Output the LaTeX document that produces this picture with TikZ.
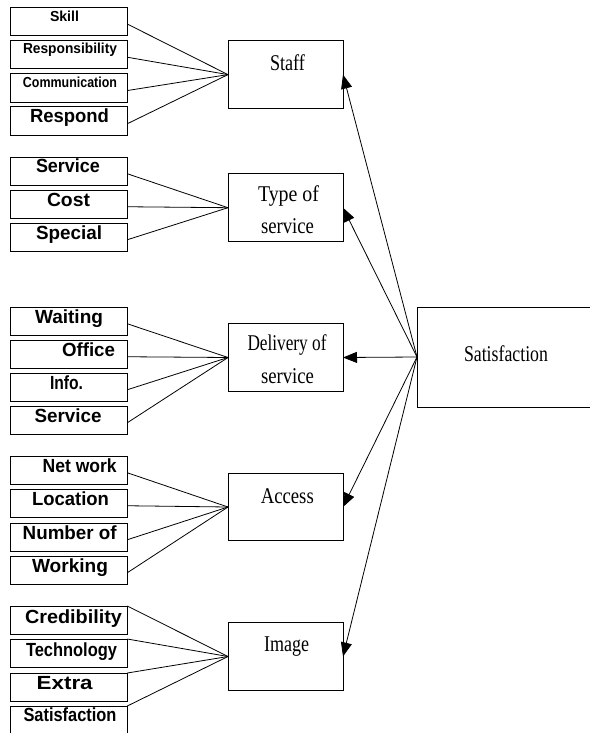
\documentclass[tikz,border=0pt]{standalone}
\usepackage{fontspec}
\usepackage{graphicx}
\setmainfont{Liberation Serif}
\newfontfamily\lblfont{Liberation Sans}
\usetikzlibrary{arrows.meta}
\newsavebox\fitbox
\newlength\fitlen
\newcommand\fitw[2]{\sbox\fitbox{#2}\setlength\fitlen{\wd\fitbox}\pgfmathsetmacro\fitr{#1/\fitlen}\scalebox{\fitr}[1]{\usebox\fitbox}}
\tikzset{
  lbox/.style={draw, line width=1pt, minimum width=116.6pt, minimum height=28.5pt, inner sep=0pt, outer sep=0pt},
  mbox/.style={draw, line width=1pt, minimum width=115pt, minimum height=67.5pt, inner sep=0pt, outer sep=0pt},
  ltxt/.style={anchor=base, inner sep=0pt, font=\lblfont\bfseries\fontsize{19}{22}\selectfont},
  stxt/.style={anchor=base, inner sep=0pt, font=\lblfont\bfseries\fontsize{14.5}{17}\selectfont},
  mtxt/.style={anchor=base, inner sep=0pt, font=\fontsize{22.5}{26}\selectfont},
  link/.style={line width=0.8pt},
  arr/.style={line width=0.8pt, -{Triangle[length=14pt,width=11pt]}}
}
\begin{document}
\begin{tikzpicture}[x=1pt,y=-1pt]
\useasboundingbox (0,0) rectangle (589,733);
% left boxes
\node[lbox] (s1) at (69,21.55) {};
\node[lbox] (s2) at (69,54.75) {};
\node[lbox] (s3) at (69,88.05) {};
\node[lbox] (s4) at (69,121.25) {};
\node[lbox] (t1) at (69,171.25) {};
\node[lbox] (t2) at (69,204.25) {};
\node[lbox] (t3) at (69,237.25) {};
\node[lbox] (d1) at (69,321.25) {};
\node[lbox] (d2) at (69,354.25) {};
\node[lbox] (d3) at (69,387.25) {};
\node[lbox] (d4) at (69,420.25) {};
\node[lbox] (a1) at (69,470.25) {};
\node[lbox] (a2) at (69,503.25) {};
\node[lbox] (a3) at (69,537.25) {};
\node[lbox] (a4) at (69,570.25) {};
\node[lbox] (i1) at (69,620.25) {};
\node[lbox] (i2) at (69,653.25) {};
\node[lbox] (i3) at (69,687.25) {};
\node[lbox] (i4) at (69,720.25) {};
% left texts
\node[stxt] (s1t) at (64.5,21.7) {\fitw{29}{Skill}};
\node[stxt] (s2t) at (70,54) {\fitw{94}{Responsibility}};
\node[stxt] (s3t) at (70,87.7) {\fitw{94}{Communication}};
\node[ltxt] (s4t) at (69.5,122.7) {\fitw{79}{Respond}};
\node[ltxt] (t1t) at (68,172.7) {\fitw{64}{Service}};
\node[ltxt] (t2t) at (68.5,206.5) {\fitw{43}{Cost}};
\node[ltxt] (t3t) at (69,239.3) {\fitw{66}{Special}};
\node[ltxt] (d1t) at (69,323) {\fitw{68}{Waiting}};
\node[ltxt] (d2t) at (88.5,356.5) {\fitw{53}{Office}};
\node[ltxt] (d3t) at (66.5,389) {\fitw{33}{Info.}};
\node[ltxt] (d4t) at (68,422.5) {\fitw{67}{Service}};
\node[ltxt] (a1t) at (79.7,472.5) {\fitw{74}{Net work}};
\node[ltxt] (a2t) at (70.5,505.7) {\fitw{77}{Location}};
\node[ltxt] (a3t) at (69.7,539) {\fitw{94}{Number of}};
\node[ltxt] (a4t) at (70,572.5) {\fitw{76}{Working}};
\node[ltxt] (i1t) at (73.5,623.3) {\fitw{97}{Credibility}};
\node[ltxt] (i2t) at (71.5,656) {\fitw{91}{Technology}};
\node[ltxt] (i3t) at (64.7,689.3) {\fitw{56}{Extra}};
\node[ltxt] (i4t) at (70,721.7) {\fitw{93}{Satisfaction}};
% middle boxes
\node[mbox] (staff) at (285.5,74.6) {};
\node[mbox] (type) at (285.5,207.7) {};
\node[mbox] (deliv) at (285.5,357.5) {};
\node[mbox] (access) at (285.5,507) {};
\node[mbox] (image) at (285.5,656.5) {};
\node[mtxt] (stafft) at (287.5,70.7) {\fitw{35}{Staff}};
\node[mtxt] (typet1) at (288.5,201.7) {\fitw{61}{Type of}};
\node[mtxt] (typet2) at (287.5,233) {\fitw{53}{service}};
\node[mtxt] (delivt1) at (287,350) {\fitw{79}{Delivery of}};
\node[mtxt] (delivt2) at (287.5,383.3) {\fitw{53}{service}};
\node[mtxt] (accesst) at (287.3,503.3) {\fitw{53}{Access}};
\node[mtxt] (imaget) at (286.5,651.7) {\fitw{45}{Image}};
% satisfaction (its right side runs past the page edge)
\node[minimum width=172pt, minimum height=100pt, inner sep=0pt, outer sep=0pt] (sat) at (503,357) {};
\draw[line width=1pt] ([xshift=2pt]sat.north east) -- (sat.north west) -- (sat.south west) -- ([xshift=2pt]sat.south east);
\node[mtxt] (satt) at (506,361.7) {\fitw{84}{Satisfaction}};
% links
\foreach \n in {s1,s2,s3,s4} \draw[link] ([yshift=-2.5pt]\n.east) -- (staff.west);
\foreach \n in {t1,t2,t3} \draw[link] ([yshift=-2.5pt]\n.east) -- (type.west);
\foreach \n in {d1,d2,d3,d4} \draw[link] ([yshift=-2.5pt]\n.east) -- (deliv.west);
\foreach \n in {a1,a2,a3,a4} \draw[link] ([yshift=-2.5pt]\n.east) -- (access.west);
\foreach \n in {i1,i2,i3,i4} \draw[link] (\n.north east) -- (image.west);
% arrows
\foreach \m in {staff,type,deliv,access,image} \draw[arr] (sat.west) -- (\m.east);
\end{tikzpicture}
\end{document}
